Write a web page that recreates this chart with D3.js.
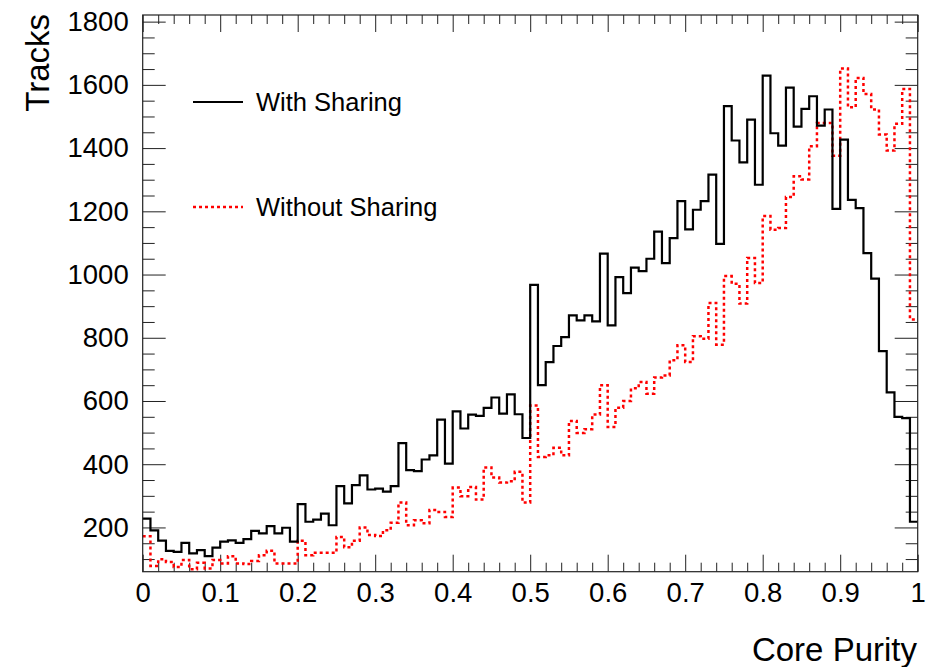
<!DOCTYPE html>
<html>
<head>
<meta charset="utf-8">
<script src="https://cdn.jsdelivr.net/npm/d3@7/dist/d3.min.js"></script>
<style>
body { margin: 0; background: #fff; }
text { font-family: "Liberation Sans", Arial, sans-serif; fill: #000; }
</style>
</head>
<body>
<svg id="chart" width="927" height="667"></svg>
<script>
// bin contents, 100 bins over [0, 1]
const withSharing = [
  228, 191, 158, 126, 123, 151, 118, 128, 109, 136,
  155, 159, 151, 163, 189, 181, 204, 181, 199, 155,
  274, 218, 225, 244, 207, 331, 276, 334, 365, 320,
  323, 313, 331, 467, 381, 378, 415, 428, 541, 402,
  567, 513, 557, 553, 578, 611, 560, 621, 558, 483,
  967, 650, 723, 774, 802, 871, 855, 871, 852, 1066,
  839, 992, 941, 1022, 1011, 1050, 1136, 1036, 1115, 1232,
  1143, 1205, 1232, 1316, 1097, 1533, 1424, 1355, 1490, 1284,
  1629, 1447, 1408, 1591, 1468, 1524, 1564, 1471, 1522, 1208,
  1427, 1236, 1210, 1068, 987, 758, 627, 550, 546, 218
];
const withoutSharing = [
  172, 78, 99, 91, 75, 97, 68, 88, 70, 97,
  86, 109, 86, 84, 94, 112, 126, 86, 86, 86,
  158, 112, 120, 120, 120, 170, 137, 158, 200, 176,
  173, 191, 215, 279, 207, 223, 213, 255, 249, 233,
  326, 299, 328, 288, 390, 358, 342, 346, 376, 279,
  586, 423, 428, 452, 428, 537, 499, 511, 557, 650,
  518, 579, 600, 640, 660, 623, 674, 681, 729, 776,
  723, 805, 797, 910, 778, 995, 971, 908, 1052, 973,
  1185, 1142, 1147, 1245, 1311, 1301, 1406, 1479, 1479, 1376,
  1652, 1529, 1622, 1571, 1522, 1443, 1392, 1477, 1587, 858
];
const seriesNames = ["With Sharing", "Without Sharing"];
const xTickValues = [0, 0.1, 0.2, 0.3, 0.4, 0.5, 0.6, 0.7, 0.8, 0.9, 1];
const xTickLabels = ["0", "0.1", "0.2", "0.3", "0.4", "0.5", "0.6", "0.7", "0.8", "0.9", "1"];
const yTickValues = [200, 400, 600, 800, 1000, 1200, 1400, 1600, 1800];
const yTickLabels = ["200", "400", "600", "800", "1000", "1200", "1400", "1600", "1800"];

const svg = d3.select("#chart");
const margin = {top: 15, right: 9.3, bottom: 95.3, left: 142.7};
const width = +svg.attr("width") - margin.left - margin.right;
const height = +svg.attr("height") - margin.top - margin.bottom;

svg.append("rect").attr("width", 927).attr("height", 667).attr("fill", "#fff");
const g = svg.append("g").attr("transform", `translate(${margin.left},${margin.top})`);

const x = d3.scaleLinear().domain([0, 1]).range([0, width]);
const y = d3.scaleLinear().domain([60, 1821]).range([height, 0]);

// minor ticks
const xMinor = d3.range(0, 51).map(i => i / 50).filter(v => Math.round(v * 50) % 5 !== 0);
const yMinor = d3.range(100, 1821, 50).filter(v => v % 200 !== 0);

function styleAxis(sel) {
  sel.select(".domain").remove();
  sel.selectAll(".tick line").attr("stroke", "#222").attr("stroke-width", 1);
}

// bottom axis
g.append("g").attr("transform", `translate(0,${height})`)
  .call(d3.axisBottom(x).tickValues(xTickValues)
    .tickFormat((d, i) => xTickLabels[i]).tickSizeInner(-17).tickSizeOuter(0).tickPadding(11))
  .call(styleAxis)
  .selectAll("text").attr("font-size", "27.5px").attr("font-family", "Liberation Sans, Arial, sans-serif");
g.append("g").attr("transform", `translate(0,${height})`)
  .call(d3.axisBottom(x).tickValues(xMinor).tickFormat("").tickSizeInner(-9).tickSizeOuter(0))
  .call(styleAxis);

// top axis (ticks only)
g.append("g")
  .call(d3.axisTop(x).tickValues(xTickValues).tickFormat("").tickSizeInner(-17).tickSizeOuter(0))
  .call(styleAxis);
g.append("g")
  .call(d3.axisTop(x).tickValues(xMinor).tickFormat("").tickSizeInner(-9).tickSizeOuter(0))
  .call(styleAxis);

// left axis
g.append("g")
  .call(d3.axisLeft(y).tickValues(yTickValues)
    .tickFormat((d, i) => yTickLabels[i]).tickSizeInner(-23).tickSizeOuter(0).tickPadding(14))
  .call(styleAxis)
  .selectAll("text").attr("font-size", "27.5px").attr("font-family", "Liberation Sans, Arial, sans-serif");
g.append("g")
  .call(d3.axisLeft(y).tickValues(yMinor).tickFormat("").tickSizeInner(-12).tickSizeOuter(0))
  .call(styleAxis);

// right axis (ticks only)
g.append("g").attr("transform", `translate(${width},0)`)
  .call(d3.axisRight(y).tickValues(yTickValues).tickFormat("").tickSizeInner(-23).tickSizeOuter(0))
  .call(styleAxis);
g.append("g").attr("transform", `translate(${width},0)`)
  .call(d3.axisRight(y).tickValues(yMinor).tickFormat("").tickSizeInner(-12).tickSizeOuter(0))
  .call(styleAxis);

// histograms as step lines
const nBins = withSharing.length;
function stepPoints(vals) {
  const pts = vals.map((v, i) => [i / nBins, v]);
  pts.push([1, vals[vals.length - 1]]);
  return pts;
}
const line = d3.line()
  .x(d => x(d[0]))
  .y(d => y(d[1]))
  .curve(d3.curveStepAfter);

g.append("path")
  .datum(stepPoints(withoutSharing))
  .attr("fill", "none")
  .attr("stroke", "#ff0000")
  .attr("stroke-width", 2.5)
  .attr("stroke-dasharray", "3,3")
  .attr("d", line);

g.append("path")
  .datum(stepPoints(withSharing))
  .attr("fill", "none")
  .attr("stroke", "#000")
  .attr("stroke-width", 2.2)
  .attr("d", line);

// frame
g.append("rect")
  .attr("width", width).attr("height", height)
  .attr("fill", "none").attr("stroke", "#222").attr("stroke-width", 1.2);

// axis titles
svg.append("text")
  .attr("transform", "translate(49,14) rotate(-90)")
  .attr("text-anchor", "end")
  .attr("font-size", "33px")
  .text("Tracks");
svg.append("text")
  .attr("x", 917).attr("y", 661)
  .attr("text-anchor", "end")
  .attr("font-size", "33px")
  .text("Core Purity");

// legend
const legend = svg.append("g");
const legendItems = [
  {name: seriesNames[0], color: "#000", dash: null, y: 102},
  {name: seriesNames[1], color: "#ff0000", dash: "3,3", y: 207}
];
legendItems.forEach(d => {
  legend.append("line")
    .attr("x1", 193).attr("x2", 243)
    .attr("y1", d.y).attr("y2", d.y)
    .attr("stroke", d.color)
    .attr("stroke-width", d.dash ? 2.5 : 2.2)
    .attr("stroke-dasharray", d.dash);
  legend.append("text")
    .attr("x", 256).attr("y", d.y)
    .attr("dy", "0.35em")
    .attr("font-size", "25.5px")
    .text(d.name);
});
</script>
</body>
</html>
